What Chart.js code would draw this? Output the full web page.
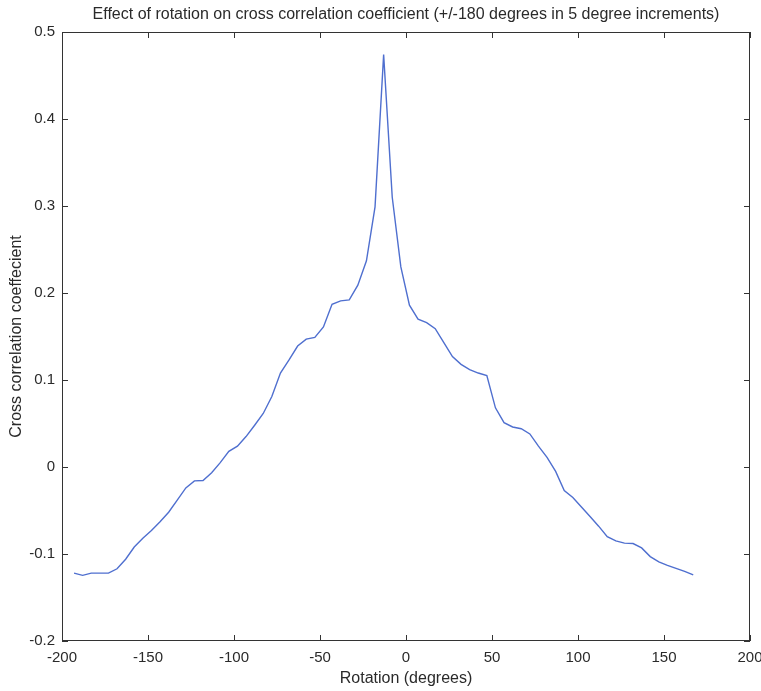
<!DOCTYPE html>
<html>
<head>
<meta charset="utf-8">
<script src="https://cdn.jsdelivr.net/npm/chart.js@4/dist/chart.umd.min.js"></script>
<style>
  html, body { margin: 0; padding: 0; background: #ffffff; }
  #wrap { width: 761px; height: 691px; }
</style>
</head>
<body>
<div id="wrap"><canvas id="rotation-chart"></canvas></div>
<script>
// Rotation angle (degrees) and the measured cross correlation coefficient
const rotationDegrees = [
    -193, -188, -183, -178, -173, -168, -163, -158, -153, -148,
    -143, -138, -133, -128, -123, -118, -113, -108, -103, -98,
    -93, -88, -83, -78, -73, -68, -63, -58, -53, -48,
    -43, -38, -33, -28, -23, -18, -13, -8, -3, 2,
    7, 12, 17, 22, 27, 32, 37, 42, 47, 52,
    57, 62, 67, 72, 77, 82, 87, 92, 97, 102,
    107, 112, 117, 122, 127, 132, 137, 142, 147, 152,
    157, 162, 167
];
const correlationValues = [
    -0.122, -0.1245, -0.122, -0.122, -0.122, -0.117, -0.106, -0.092, -0.082, -0.073,
    -0.063, -0.052, -0.038, -0.024, -0.016, -0.0155, -0.0065, 0.005, 0.018, 0.024,
    0.035, 0.048, 0.0615, 0.081, 0.108, 0.123, 0.139, 0.147, 0.149, 0.161,
    0.187, 0.191, 0.192, 0.209, 0.237, 0.299, 0.474, 0.31, 0.23, 0.186,
    0.170, 0.166, 0.159, 0.143, 0.127, 0.118, 0.112, 0.108, 0.105, 0.068,
    0.051, 0.046, 0.044, 0.038, 0.024, 0.011, -0.005, -0.027, -0.035, -0.046,
    -0.057, -0.068, -0.080, -0.085, -0.0875, -0.088, -0.093, -0.103, -0.109, -0.113,
    -0.1165, -0.120, -0.124
];
const xTicks = [-200, -150, -100, -50, 0, 50, 100, 150, 200];
const yTicks = [-0.2, -0.1, 0, 0.1, 0.2, 0.3, 0.4, 0.5];

const axisColor = '#333333';
const textColor = '#2a2a2a';
const fontFamily = 'Liberation Sans, Arial, Helvetica, sans-serif';

// MATLAB style box with inward ticks on all four sides
const boxTicks = {
    id: 'boxTicks',
    afterDraw(chart) {
        const { ctx, chartArea, scales } = chart;
        const len = 6;
        ctx.save();
        ctx.strokeStyle = axisColor;
        ctx.lineWidth = 1;
        ctx.strokeRect(chartArea.left + 0.5, chartArea.top + 0.5,
            chartArea.right - chartArea.left - 1, chartArea.bottom - chartArea.top - 1);
        ctx.beginPath();
        xTicks.forEach(v => {
            const px = Math.round(scales.x.getPixelForValue(v)) + 0.5;
            ctx.moveTo(px, chartArea.bottom);
            ctx.lineTo(px, chartArea.bottom - len);
            ctx.moveTo(px, chartArea.top);
            ctx.lineTo(px, chartArea.top + len);
        });
        yTicks.forEach(v => {
            const py = Math.round(scales.y.getPixelForValue(v)) + 0.5;
            ctx.moveTo(chartArea.left, py);
            ctx.lineTo(chartArea.left + len, py);
            ctx.moveTo(chartArea.right, py);
            ctx.lineTo(chartArea.right - len, py);
        });
        ctx.stroke();
        ctx.restore();
    }
};

const points = rotationDegrees.map((deg, i) => ({ x: deg, y: correlationValues[i] }));

new Chart(document.getElementById('rotation-chart'), {
    type: 'line',
    data: {
        datasets: [{
            data: points,
            borderColor: '#4f6fcf',
            borderWidth: 1.4,
            pointRadius: 0,
            fill: false,
            tension: 0
        }]
    },
    options: {
        responsive: true,
        maintainAspectRatio: false,
        animation: false,
        layout: { padding: { right: 11, left: 0, top: 0, bottom: 0 } },
        plugins: {
            legend: { display: false },
            tooltip: { enabled: false },
            title: {
                display: true,
                fullSize: false,
                text: 'Effect of rotation on cross correlation coefficient (+/-180 degrees in 5 degree increments)',
                color: textColor,
                font: { family: fontFamily, size: 16, weight: 'normal' },
                padding: { top: 5, bottom: 7.8 }
            }
        },
        scales: {
            x: {
                type: 'linear',
                min: -200,
                max: 200,
                afterBuildTicks: (scale) => { scale.ticks = xTicks.map(v => ({ value: v })); },
                grid: { display: false, drawTicks: false },
                border: { display: false },
                ticks: {
                    color: textColor,
                    padding: 8,
                    maxRotation: 0,
                    font: { family: fontFamily, size: 15 },
                    callback: (v) => String(v)
                },
                title: {
                    display: true,
                    text: 'Rotation (degrees)',
                    color: textColor,
                    font: { family: fontFamily, size: 16 },
                    padding: { top: 2, bottom: 3 }
                },
                afterFit: (scale) => {
                    scale.height = 50;
                    scale.paddingLeft = 0;
                    scale.paddingRight = 0;
                }
            },
            y: {
                type: 'linear',
                min: -0.2,
                max: 0.5,
                afterBuildTicks: (scale) => { scale.ticks = yTicks.map(v => ({ value: v })); },
                grid: { display: false, drawTicks: false },
                border: { display: false },
                ticks: {
                    color: textColor,
                    padding: 7,
                    font: { family: fontFamily, size: 15 },
                    callback: (v) => String(Number(v.toFixed(1)))
                },
                title: {
                    display: true,
                    text: 'Cross correlation coeffecient',
                    color: textColor,
                    font: { family: fontFamily, size: 16 },
                    padding: { top: 7, bottom: 0 }
                },
                afterFit: (scale) => { scale.width = 62; }
            }
        }
    },
    plugins: [boxTicks]
});
</script>
</body>
</html>
